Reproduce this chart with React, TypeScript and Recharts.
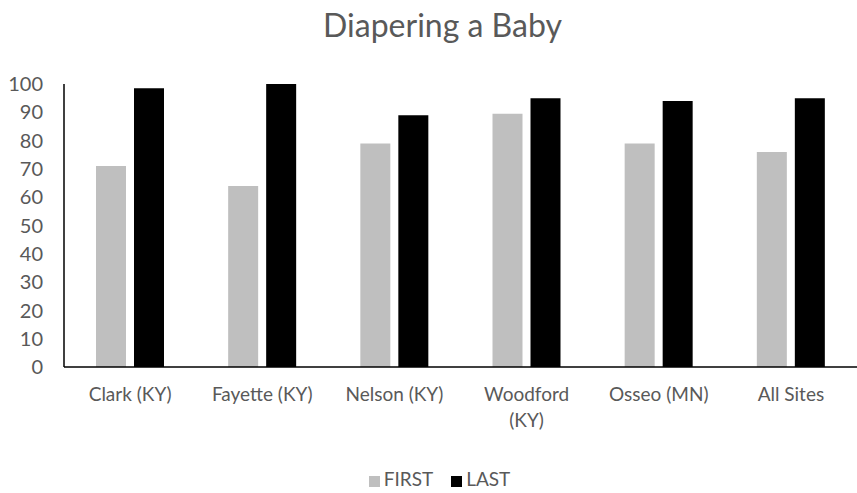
import { BarChart, Bar, XAxis, YAxis, Legend } from 'recharts';

const sites = ['Clark (KY)', 'Fayette (KY)', 'Nelson (KY)', 'Woodford (KY)', 'Osseo (MN)', 'All Sites'];
const firstScores = [71, 64, 79, 89.5, 79, 76];
const lastScores = [98.5, 100, 89, 95, 94, 95];
const yTicks = [0, 10, 20, 30, 40, 50, 60, 70, 80, 90, 100];

const TEXT = '#595959';
const FONT = 'Lato, "Open Sans", sans-serif';

// Excel wraps long category names onto a second line
function SiteTick({ x, y, payload }: any) {
  const label: string = payload.value;
  let lines = [label];
  if (label.length > 12) {
    const cut = label.lastIndexOf(' ');
    lines = [label.slice(0, cut), label.slice(cut + 1)];
  }
  return (
    <text x={x} y={y} textAnchor="middle" fill={TEXT} fontSize={19} fontFamily={FONT}>
      {lines.map((ln, i) => (
        <tspan key={i} x={x} dy={i === 0 ? 26 : 26}>{ln}</tspan>
      ))}
    </text>
  );
}

export default function App() {
  const data = sites.map((site, i) => ({ site, FIRST: firstScores[i], LAST: lastScores[i] }));

  return (
    <div style={{ position: 'absolute', left: 0, top: 0, width: 857, height: 493, background: '#fff', fontFamily: FONT }}>
      <div style={{ position: 'absolute', top: 5, width: 857, left: 14, textAlign: 'center', fontSize: 32, color: TEXT }}>
        Diapering a Baby
      </div>
      <BarChart
        width={857}
        height={493}
        data={data}
        margin={{ top: 84, right: 0, left: 0, bottom: 3 }}
        barSize={30}
        barGap={8}
      >
        <XAxis
          dataKey="site"
          height={100}
          axisLine={{ stroke: '#000', strokeWidth: 1.5 }}
          tickLine={false}
          interval={0}
          tick={<SiteTick />}
        />
        <YAxis
          width={64}
          domain={[0, 100]}
          ticks={yTicks}
          allowDataOverflow
          axisLine={{ stroke: '#000', strokeWidth: 1.5 }}
          tickLine={false}
          tickMargin={15}
          tick={{ fill: TEXT, fontSize: 20, fontFamily: FONT }}
        />
        <Legend
          verticalAlign="bottom"
          iconType="square"
          iconSize={11}
          wrapperStyle={{ paddingLeft: 20 }}
          formatter={(value: string) => (
            <span style={{ color: TEXT, fontSize: 19, marginRight: 8 }}>{value}</span>
          )}
        />
        <Bar dataKey="FIRST" fill="#BFBFBF" isAnimationActive={false} />
        <Bar dataKey="LAST" fill="#000000" isAnimationActive={false} />
      </BarChart>
    </div>
  );
}
